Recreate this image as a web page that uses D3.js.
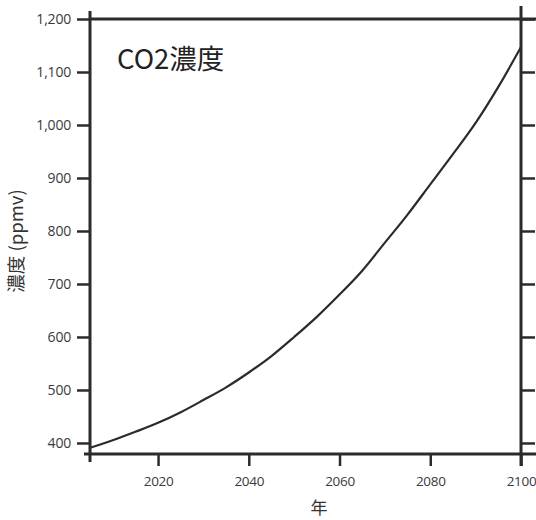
<!DOCTYPE html>
<html><head><meta charset="utf-8">
<script src="https://cdn.jsdelivr.net/npm/d3@7"></script>
<style>
html,body{margin:0;padding:0;background:#fff;}
svg{display:block;}
</style></head>
<body>
<svg id="chart" width="536" height="520"></svg>
<script>
const years = [2005,2010,2015,2020,2025,2030,2035,2040,2045,2050,2055,2060,2065,2070,2075,2080,2085,2090,2095,2100];
const co2 =   [391, 405, 421, 438, 458, 481, 505, 533, 564, 600, 638, 680, 725, 778, 831, 888, 945, 1004,1072,1147];
const yTicks = [400,500,600,700,800,900,1000,1100,1200];
const xTicks = [2020,2040,2060,2080,2100];
const titleText = "CO2濃度";
const yLabel = "濃度 (ppmv)";
const xLabel = "年";

const svg = d3.select("#chart");
const x = d3.scaleLinear().domain([2005,2100]).range([90,521]);
const y = d3.scaleLinear().domain([379.2,1200]).range([454,19]);
const ink = "#2b2b2b";
const font = "'Open Sans', 'Noto Sans CJK JP', sans-serif";

// left axis
const ga = svg.append("g").attr("transform","translate(90,0)")
  .call(d3.axisLeft(y).tickValues(yTicks).tickSize(13).tickPadding(6).tickFormat(d3.format(",")));
ga.select(".domain").remove();
ga.selectAll(".tick line").attr("stroke",ink).attr("stroke-width",2.5);
ga.selectAll(".tick text").attr("font-family",font).attr("font-size",14).attr("fill","#3a3a3a").attr("letter-spacing","-0.2");

// right axis ticks
const gr = svg.append("g").attr("transform","translate(521,0)")
  .call(d3.axisRight(y).tickValues(yTicks).tickSize(14).tickFormat(""));
gr.select(".domain").remove();
gr.selectAll(".tick line").attr("stroke",ink).attr("stroke-width",2.5);

// bottom axis
const gb = svg.append("g").attr("transform","translate(0,454)")
  .call(d3.axisBottom(x).tickValues(xTicks).tickSize(12).tickPadding(10).tickFormat(d3.format("d")));
gb.select(".domain").remove();
gb.selectAll(".tick line").attr("stroke",ink).attr("stroke-width",2.5);
gb.selectAll(".tick text").attr("font-family",font).attr("font-size",13.5).attr("fill","#3a3a3a").attr("letter-spacing","-0.3");

// frame lines
const [x0,x1] = x.range();
const [yb,yt] = y.range();
svg.append("line").attr("x1",x0).attr("x2",536).attr("y1",yt).attr("y2",yt).attr("stroke",ink).attr("stroke-width",3);
svg.append("line").attr("x1",x0-6).attr("x2",536).attr("y1",yb).attr("y2",yb).attr("stroke",ink).attr("stroke-width",3);
svg.append("line").attr("x1",x0).attr("x2",x0).attr("y1",yt-8).attr("y2",yb+8).attr("stroke",ink).attr("stroke-width",3);
svg.append("line").attr("x1",x1).attr("x2",x1).attr("y1",yt-13).attr("y2",yb+12).attr("stroke",ink).attr("stroke-width",3);

// curve
const data = years.map((d,i)=>({year:d,v:co2[i]}));
svg.append("path").datum(data)
  .attr("d", d3.line().x(d=>x(d.year)).y(d=>y(d.v)).curve(d3.curveMonotoneX))
  .attr("fill","none").attr("stroke",ink).attr("stroke-width",2.2);

// title
svg.append("text").attr("x",117).attr("y",69).text(titleText)
  .attr("font-family","'Noto Sans CJK JP', sans-serif").attr("font-size",27.5).attr("fill","#222");

// axis labels
svg.append("text").attr("transform","translate(23,241) rotate(-90)").attr("text-anchor","middle")
  .text(yLabel).attr("font-family","'Noto Sans CJK JP', sans-serif").attr("font-size",18.5).attr("fill","#333");
svg.append("text").attr("x",319).attr("y",514).attr("text-anchor","middle")
  .text(xLabel).attr("font-family","'Noto Sans CJK JP', sans-serif").attr("font-size",17).attr("fill","#333");
</script>
</body></html>
